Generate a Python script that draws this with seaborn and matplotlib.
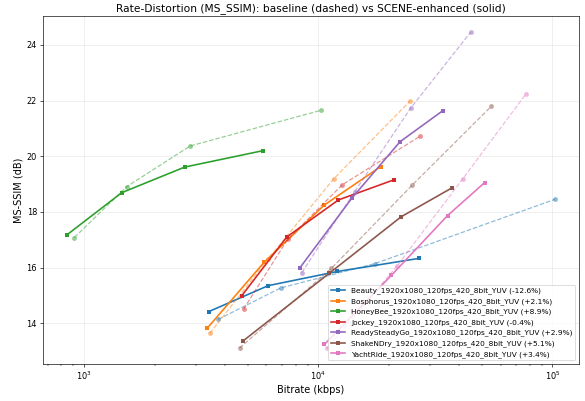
import matplotlib
matplotlib.use("Agg")
import matplotlib.pyplot as plt
import seaborn as sns
import pandas as pd

sequences = ["Beauty", "Bosphorus", "HoneyBee", "Jockey",
             "ReadySteadyGo", "ShakeNDry", "YachtRide"]
suffix = "_1920x1080_120fps_420_8bit_YUV"
bd_rate = ["-12.6%", "+2.1%", "+8.9%", "-0.4%", "+2.9%", "+5.1%", "+3.4%"]
colors = ["#1f77b4", "#ff7f0e", "#2ca02c", "#d62728",
          "#9467bd", "#8c564b", "#e377c2"]

# baseline (dashed) bitrate kbps / MS-SSIM dB
base_rate = {
    "Beauty":        [3739, 6918, 17410, 102300],
    "Bosphorus":     [3445, 6093, 11670, 24560],
    "HoneyBee":      [909, 1521, 2839, 10250],
    "Jockey":        [4798, 7390, 12680, 27100],
    "ReadySteadyGo": [8505, 14310, 24800, 44850],
    "ShakeNDry":     [4612, 11380, 25220, 54770],
    "YachtRide":     [10900, 21620, 41320, 77230],
}
base_ssim = {
    "Beauty":        [14.14, 15.27, 16.14, 18.45],
    "Bosphorus":     [13.64, 16.30, 19.20, 21.97],
    "HoneyBee":      [17.08, 18.91, 20.37, 21.65],
    "Jockey":        [14.51, 17.01, 18.98, 20.71],
    "ReadySteadyGo": [15.82, 18.73, 21.73, 24.47],
    "ShakeNDry":     [13.11, 15.97, 18.97, 21.79],
    "YachtRide":     [13.10, 16.04, 19.18, 22.25],
}
# SCENE-enhanced (solid)
scene_rate = {
    "Beauty":        [3412, 6109, 12070, 26900],
    "Bosphorus":     [3355, 5872, 10620, 18490],
    "HoneyBee":      [846, 1447, 2687, 5800],
    "Jockey":        [4704, 7341, 12190, 20990],
    "ReadySteadyGo": [8363, 13900, 22330, 34050],
    "ShakeNDry":     [4750, 11160, 22630, 37340],
    "YachtRide":     [10620, 20520, 35660, 51280],
}
scene_ssim = {
    "Beauty":        [14.42, 15.35, 15.86, 16.33],
    "Bosphorus":     [13.82, 16.19, 18.25, 19.63],
    "HoneyBee":      [17.18, 18.69, 19.61, 20.20],
    "Jockey":        [14.98, 17.10, 18.43, 19.15],
    "ReadySteadyGo": [16.00, 18.49, 20.52, 21.64],
    "ShakeNDry":     [13.35, 15.80, 17.83, 18.87],
    "YachtRide":     [13.24, 15.72, 17.87, 19.05],
}

fig, ax = plt.subplots(figsize=(10, 6.855), dpi=58.5)

for seq, col, bd in zip(sequences, colors, bd_rate):
    dfb = pd.DataFrame({"rate": base_rate[seq], "ssim": base_ssim[seq]})
    sns.lineplot(data=dfb, x="rate", y="ssim", ax=ax, sort=False, estimator=None,
                 color=col, linestyle="--", marker="o", markersize=6,
                 linewidth=1.5, alpha=0.5, markeredgewidth=0, label="_nolegend_")
    dfs = pd.DataFrame({"rate": scene_rate[seq], "ssim": scene_ssim[seq]})
    sns.lineplot(data=dfs, x="rate", y="ssim", ax=ax, sort=False, estimator=None,
                 color=col, linestyle="-", marker="s", markersize=6,
                 linewidth=2, markeredgewidth=0, label=f"{seq}{suffix} ({bd})")

ax.set_xscale("log")
ax.set_title("Rate-Distortion (MS_SSIM): baseline (dashed) vs SCENE-enhanced (solid)", fontsize=13)
ax.set_xlabel("Bitrate (kbps)", fontsize=12)
ax.set_ylabel("MS-SSIM (dB)", fontsize=12)
ax.tick_params(labelsize=10)
ax.grid(True, alpha=0.3)
ax.legend(loc="lower right", fontsize=9)
fig.subplots_adjust(left=0.073, right=0.990, top=0.960, bottom=0.092)
fig.savefig("out.png", dpi=58.5)
